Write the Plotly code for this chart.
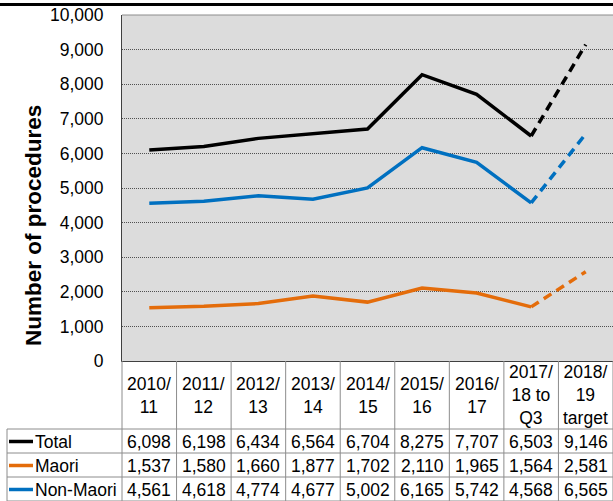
import plotly.graph_objects as go

categories = ["2010/<br>11", "2011/<br>12", "2012/<br>13", "2013/<br>14", "2014/<br>15",
              "2015/<br>16", "2016/<br>17", "2017/<br>18 to<br>Q3", "2018/<br>19<br>target"]
series_names = ["Total", "Maori", "Non-Maori"]
total = [6098, 6198, 6434, 6564, 6704, 8275, 7707, 6503, 9146]
maori = [1537, 1580, 1660, 1877, 1702, 2110, 1965, 1564, 2581]
non_maori = [4561, 4618, 4774, 4677, 5002, 6165, 5742, 4568, 6565]
colors = ["#000000", "#E46C0A", "#0070C0"]

W, H = 613, 501
L, R, T, B = 122, 0, 15, 140
PW, PH = W - L - R, H - T - B
FONT = "Liberation Sans, Arial, sans-serif"


def px_x(p):
    return (p - L) / PW


def px_y(p):
    return (H - B - p) / PH


n = len(categories)
xs = list(range(n))
fig = go.Figure()
for name, vals, col in zip(series_names, [total, maori, non_maori], colors):
    fig.add_trace(go.Scatter(x=xs[:n - 1], y=vals[:n - 1], mode="lines", name=name,
                             line=dict(color=col, width=3.5), showlegend=False))
    fig.add_trace(go.Scatter(x=xs[n - 2:], y=vals[n - 2:], mode="lines", name=name + " target",
                             line=dict(color=col, width=3.5, dash="9px,6px"), showlegend=False))

shapes = []
annotations = []
grey = "#8C8C8C"
# top black rule
shapes.append(dict(type="line", xref="paper", yref="paper", x0=px_x(0), x1=px_x(W),
                   y0=px_y(4.5), y1=px_y(4.5), line=dict(color="black", width=3)))

header_bottom = 429
row_h = 24
table_bottom = header_bottom + row_h * 3
# horizontal table lines
for k in range(4):
    yy = header_bottom + k * row_h
    shapes.append(dict(type="line", xref="paper", yref="paper", x0=px_x(7), x1=px_x(W),
                       y0=px_y(yy), y1=px_y(yy), line=dict(color=grey, width=1)))
# vertical column lines
for i in range(n + 1):
    xp = i / n
    shapes.append(dict(type="line", xref="paper", yref="paper", x0=xp, x1=xp,
                       y0=0, y1=px_y(table_bottom), line=dict(color=grey, width=1)))
shapes.append(dict(type="line", xref="paper", yref="paper", x0=px_x(7), x1=px_x(7),
                   y0=px_y(header_bottom), y1=px_y(table_bottom), line=dict(color=grey, width=1)))

# header labels
for i, c in enumerate(categories):
    annotations.append(dict(x=(i + 0.5) / n, y=px_y((361 + header_bottom) / 2), xref="paper", yref="paper",
                            text=c, showarrow=False, xanchor="center", yanchor="middle",
                            font=dict(family=FONT, size=17.5, color="black")))
# rows
for r, (name, vals, col) in enumerate(zip(series_names, [total, maori, non_maori], colors)):
    yc = header_bottom + row_h * r + row_h / 2 + 0.5
    shapes.append(dict(type="line", xref="paper", yref="paper", x0=px_x(9), x1=px_x(33),
                       y0=px_y(yc), y1=px_y(yc), line=dict(color=col, width=3.5)))
    annotations.append(dict(x=px_x(33), y=px_y(yc), xref="paper", yref="paper", text=name,
                            showarrow=False, xanchor="left", yanchor="middle",
                            font=dict(family=FONT, size=17.5, color="black")))
    for i, v in enumerate(vals):
        annotations.append(dict(x=(i + 0.5) / n, y=px_y(yc), xref="paper", yref="paper",
                                text=f"{v:,}", showarrow=False, xanchor="center", yanchor="middle",
                                font=dict(family=FONT, size=17.5, color="black")))

annotations.append(dict(x=px_x(33), y=px_y(226), xref="paper", yref="paper",
                        text="<b>Number of procedures</b>", textangle=-90, showarrow=False,
                        xanchor="center", yanchor="middle",
                        font=dict(family=FONT, size=22.5, color="black")))

fig.update_layout(
    width=W, height=H, margin=dict(l=L, r=R, t=T, b=B),
    paper_bgcolor="white", plot_bgcolor="#DCDCDC",
    shapes=shapes, annotations=annotations,
    xaxis=dict(range=[-0.5, n - 0.5], showticklabels=False, showgrid=False, zeroline=False,
               showline=True, linecolor="#404040", linewidth=1, mirror=False, fixedrange=True),
    yaxis=dict(range=[0, 10000], dtick=1000, tickformat=",", showgrid=True, gridcolor="#505050",
               griddash="1px,1px", gridwidth=1, zeroline=False, showline=True, linecolor="#404040",
               linewidth=1, ticks="", ticklabelstandoff=14,
               tickfont=dict(family=FONT, size=17.5, color="black")),
)
fig.add_shape(type="line", xref="paper", yref="paper", x0=0, x1=1, y0=1, y1=1,
              line=dict(color=grey, width=1))
fig.write_html("out.html", config={"displayModeBar": False},
               post_script="document.body.style.margin='0';document.body.style.overflow='hidden';")
